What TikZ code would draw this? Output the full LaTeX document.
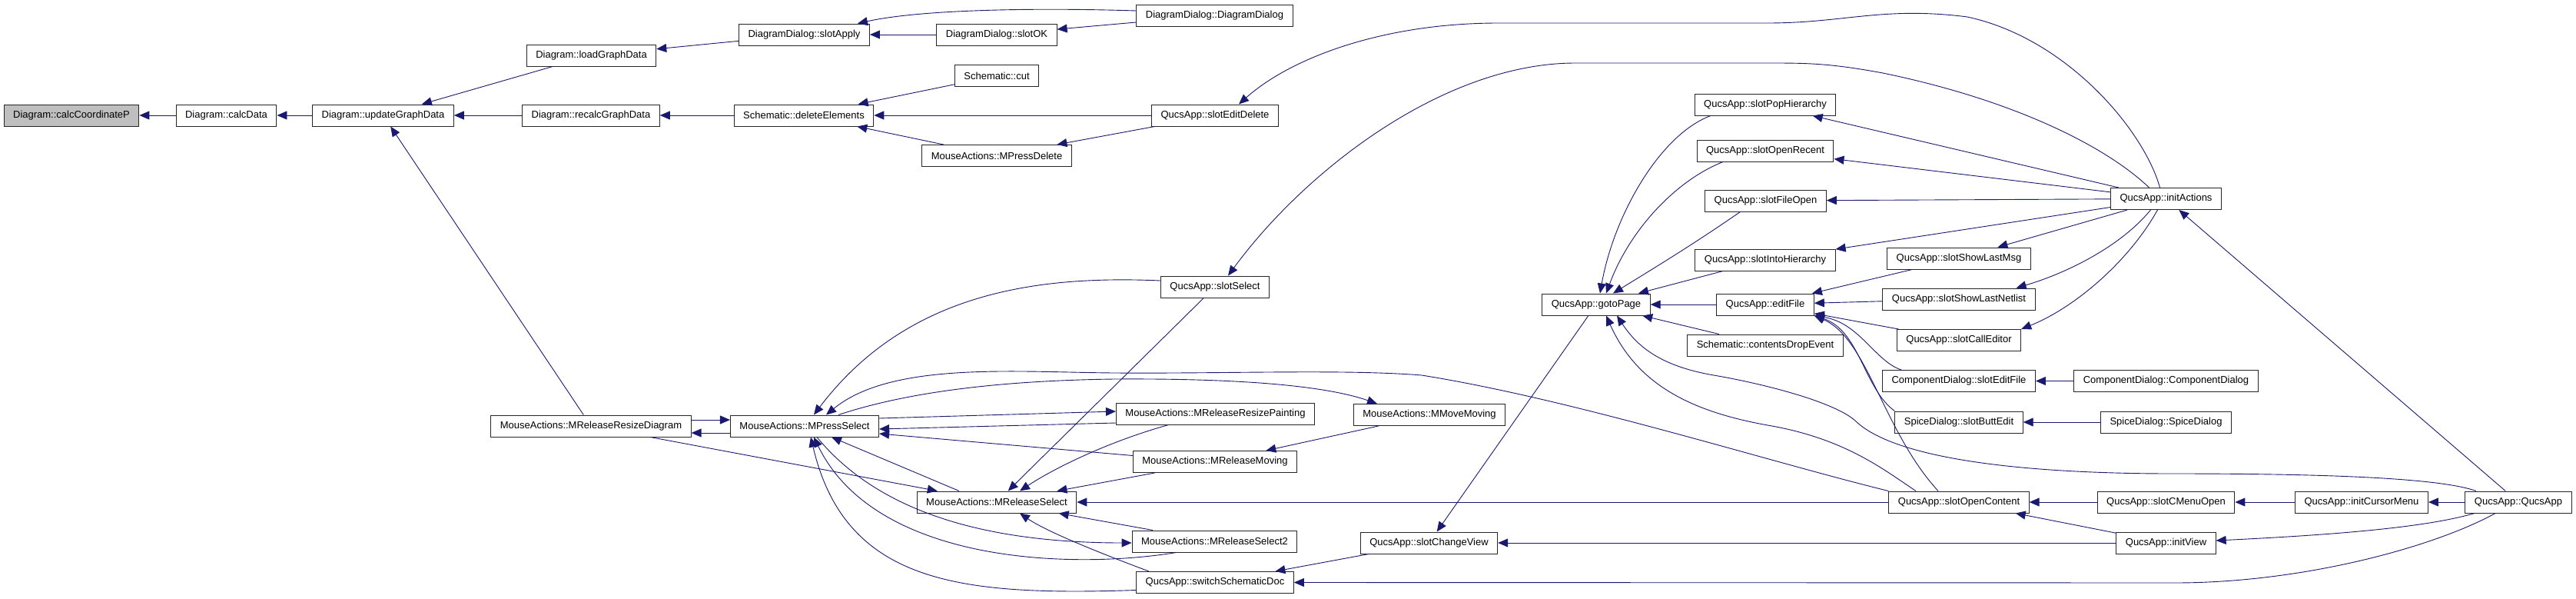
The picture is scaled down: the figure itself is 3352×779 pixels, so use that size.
\documentclass[tikz,border=0pt]{standalone}
\usepackage{fontspec}
\setmainfont{Liberation Sans}
\usetikzlibrary{arrows.meta}
\definecolor{callblue}{RGB}{25,25,112}
\tikzset{
  fn/.style={draw=black!85, fill=white, line width=1pt, minimum height=28pt,
    inner xsep=12pt, inner ysep=0pt, font=\fontsize{13}{15}\selectfont},
  fnroot/.style={fn, fill=black!25},
  call/.style={draw=callblue, line width=0.9pt, -{Triangle[length=13pt,width=11pt]}},
}
\begin{document}
\begin{tikzpicture}[x=1pt,y=-1pt]
    \useasboundingbox (0,0) rectangle (3352,779);
    \node[fnroot] (calcCoordinateP) at (93,150) {Diagram::calcCoordinateP};
    \foreach \n/\x/\y/\t in {
        calcData/294.5/150/Diagram::calcData,
        updateGraphData/498.5/150/Diagram::updateGraphData,
        loadGraphData/769.5/72/Diagram::loadGraphData,
        recalcGraphData/769/150/Diagram::recalcGraphData,
        ddSlotApply/1046.5/45/DiagramDialog::slotApply,
        ddSlotOK/1297/45/DiagramDialog::slotOK,
        ddCtor/1580.5/20/DiagramDialog::DiagramDialog,
        schCut/1297/98.5/Schematic::cut,
        schDeleteElements/1046/150/Schematic::deleteElements,
        slotEditDelete/1581/150/QucsApp::slotEditDelete,
        mPressDelete/1297/202.5/MouseActions::MPressDelete,
        slotSelect/1581/373/QucsApp::slotSelect,
        mReleaseResizeDiagram/769/554/MouseActions::MReleaseResizeDiagram,
        mPressSelect/1047/554/MouseActions::MPressSelect,
        mReleaseResizePainting/1581.5/538/MouseActions::MReleaseResizePainting,
        mReleaseMoving/1581/600.5/MouseActions::MReleaseMoving,
        mReleaseSelect/1297/653/MouseActions::MReleaseSelect,
        mReleaseSelect2/1580.5/704/MouseActions::MReleaseSelect2,
        switchSchematicDoc/1581/757.5/QucsApp::switchSchematicDoc,
        mMoveMoving/1860/539.5/MouseActions::MMoveMoving,
        slotChangeView/1859.5/706/QucsApp::slotChangeView,
        gotoPage/2077/396/QucsApp::gotoPage,
        editFile/2297/396/QucsApp::editFile,
        contentsDropEvent/2297/449/Schematic::contentsDropEvent,
        slotPopHierarchy/2297/136/QucsApp::slotPopHierarchy,
        slotOpenRecent/2297/196/QucsApp::slotOpenRecent,
        slotFileOpen/2297.5/261/QucsApp::slotFileOpen,
        slotIntoHierarchy/2297/338/QucsApp::slotIntoHierarchy,
        slotShowLastMsg/2549/336/QucsApp::slotShowLastMsg,
        slotShowLastNetlist/2549/389/QucsApp::slotShowLastNetlist,
        slotCallEditor/2549/442.5/QucsApp::slotCallEditor,
        cdSlotEditFile/2549/495.5/ComponentDialog::slotEditFile,
        sdSlotButtEdit/2549/549/SpiceDialog::slotButtEdit,
        cdCtor/2818.5/495.5/ComponentDialog::ComponentDialog,
        sdCtor/2818.5/549/SpiceDialog::SpiceDialog,
        slotOpenContent/2549/653/QucsApp::slotOpenContent,
        slotCMenuOpen/2818.5/653/QucsApp::slotCMenuOpen,
        initCursorMenu/3073/653/QucsApp::initCursorMenu,
        qucsApp/3277/653/QucsApp::QucsApp,
        initView/2818.5/706/QucsApp::initView,
        initActions/2818.5/258.5/QucsApp::initActions} {
        \node[fn] (\n) at (\x,\y) {\t};
    }
    % straight calls, caller/callee
    \foreach \a/\b in {calcData/calcCoordinateP, updateGraphData/calcData,
        loadGraphData/updateGraphData, recalcGraphData/updateGraphData,
        mReleaseResizeDiagram/updateGraphData, ddSlotApply/loadGraphData,
        ddSlotOK/ddSlotApply, ddCtor/ddSlotOK, schDeleteElements/recalcGraphData,
        schCut/schDeleteElements, slotEditDelete/schDeleteElements,
        mPressDelete/schDeleteElements, slotEditDelete/mPressDelete,
        initActions/slotPopHierarchy, initActions/slotOpenRecent,
        initActions/slotFileOpen, initActions/slotIntoHierarchy,
        initActions/slotShowLastMsg, qucsApp/initActions,
        slotIntoHierarchy/gotoPage, editFile/gotoPage, contentsDropEvent/gotoPage,
        gotoPage/slotChangeView, slotShowLastMsg/editFile,
        slotShowLastNetlist/editFile, slotCallEditor/editFile,
        cdCtor/cdSlotEditFile, sdCtor/sdSlotButtEdit,
        slotOpenContent/mReleaseSelect, slotCMenuOpen/slotOpenContent,
        initCursorMenu/slotCMenuOpen, qucsApp/initCursorMenu,
        initView/slotOpenContent, initView/slotChangeView,
        slotChangeView/switchSchematicDoc, slotSelect/mReleaseSelect,
        mMoveMoving/mReleaseMoving, mReleaseMoving/mReleaseSelect,
        mReleaseSelect2/mReleaseSelect, mReleaseResizeDiagram/mReleaseSelect} {
        \draw[call] (\a) -- (\b);
    }
    % curved calls
    \draw[call] ([yshift=6pt]ddCtor.west) .. controls (1350,10) and (1200,12) .. ([xshift=-16pt]ddSlotApply.north east);
    \draw[call] ([xshift=-8pt]initActions.north) .. controls (2790,170) and (2690,50) .. (2560,22)
        .. controls (2450,8) and (2400,30) .. (2300,30) -- (1950,30)
        .. controls (1800,30) and (1680,75) .. ([xshift=31pt]slotEditDelete.north);
    \draw[call] ([xshift=-22pt]initActions.north) .. controls (2740,190) and (2620,130) .. (2450,95)
        .. controls (2380,82) and (2350,82) .. (2300,82) -- (2050,82)
        .. controls (1880,82) and (1700,220) .. ([xshift=17pt]slotSelect.north);
    \draw[call] ([xshift=-20pt]initActions.south) .. controls (2760,320) and (2690,355) .. ([xshift=-25pt]slotShowLastNetlist.north east);
    \draw[call] ([xshift=-11pt]initActions.south) .. controls (2770,340) and (2700,400) .. (slotCallEditor.north east);
    \draw[call] ([xshift=-71pt]slotPopHierarchy.south) .. controls (2160,175) and (2100,280) .. ([xshift=5pt]gotoPage.north);
    \draw[call] ([xshift=-55pt]slotOpenRecent.south) .. controls (2180,235) and (2120,300) .. ([xshift=13pt]gotoPage.north);
    \draw[call] ([xshift=-33pt]slotFileOpen.south) .. controls (2200,320) and (2150,350) .. ([xshift=22pt]gotoPage.north);
    \draw[call] ([xshift=25pt]cdSlotEditFile.north west) .. controls (2440,470) and (2420,420) .. (editFile.south east);
    \draw[call] (sdSlotButtEdit.north west) .. controls (2425,505) and (2420,430) .. (editFile.south east);
    \draw[call] ([xshift=-27pt]slotOpenContent.north) .. controls (2450,560) and (2430,440) .. (editFile.south east);
    \draw[call] ([xshift=-55pt]qucsApp.north) .. controls (3170,620) and (3000,616) .. (2826,616)
        .. controls (2650,616) and (2470,600) .. (2415,548)
        .. controls (2390,524) and (2300,500) .. (2230,488)
        .. controls (2160,476) and (2130,450) .. ([xshift=27pt]gotoPage.south);
    \draw[call] ([xshift=-56pt]slotOpenContent.north) .. controls (2450,610) and (2400,570) .. (2300,553)
        .. controls (2200,535) and (2130,500) .. ([xshift=13pt]gotoPage.south);
    \draw[call] (slotOpenContent.north west) .. controls (2300,600) and (2050,520) .. (1850,488)
        .. controls (1750,480) and (1600,486) .. (1450,485)
        .. controls (1320,484) and (1160,470) .. ([xshift=28pt]mPressSelect.north);
    \draw[call] ([xshift=-57pt]qucsApp.south) .. controls (3160,685) and (3050,695) .. ([yshift=3pt]initView.east);
    \draw[call] ([xshift=-30pt]qucsApp.south) .. controls (3170,710) and (3000,758) .. (2830,758) -- (switchSchematicDoc.east);
    \draw[call] ([yshift=8pt]slotSelect.west) .. controls (1350,358) and (1180,380) .. ([xshift=12pt]mPressSelect.north);
    \draw[call] ([yshift=10pt]mPressSelect.east) -- ([yshift=3pt]mReleaseResizePainting.west);
    \draw[call] ([yshift=-12pt]mReleaseResizePainting.west) -- ([yshift=-4pt]mPressSelect.east);
    \draw[call] ([yshift=8pt]mReleaseMoving.west) -- ([yshift=-10pt]mPressSelect.east);
    \draw[call] ([xshift=44pt]mPressSelect.north) .. controls (1180,510) and (1300,495) .. (1450,493)
        .. controls (1600,492) and (1720,500) .. ([xshift=-68pt]mMoveMoving.north);
    \draw[call] ([xshift=-61pt]mReleaseResizePainting.south) .. controls (1440,575) and (1370,610) .. ([xshift=30pt]mReleaseSelect.north);
    \draw[call] ([xshift=-86pt]switchSchematicDoc.north) .. controls (1420,715) and (1360,690) .. ([xshift=30pt]mReleaseSelect.south);
    \draw[call] ([yshift=8pt]mReleaseResizeDiagram.east) -- ([yshift=8pt]mPressSelect.west);
    \draw[call] ([yshift=-9pt]mPressSelect.west) -- ([yshift=-9pt]mReleaseResizeDiagram.east);
    \draw[call] ([xshift=-49pt]mReleaseSelect.north) -- ([xshift=35pt]mPressSelect.south);
    \draw[call] ([xshift=16pt]mPressSelect.south) .. controls (1130,650) and (1250,706) .. ([yshift=-2pt]mReleaseSelect2.west);
    \draw[call] ([xshift=-50pt]mReleaseSelect2.south) .. controls (1400,740) and (1140,735) .. ([xshift=12pt]mPressSelect.south);
    \draw[call] ([yshift=-10pt]switchSchematicDoc.west) .. controls (1250,775) and (1100,760) .. ([xshift=8pt]mPressSelect.south);
\end{tikzpicture}
\end{document}
